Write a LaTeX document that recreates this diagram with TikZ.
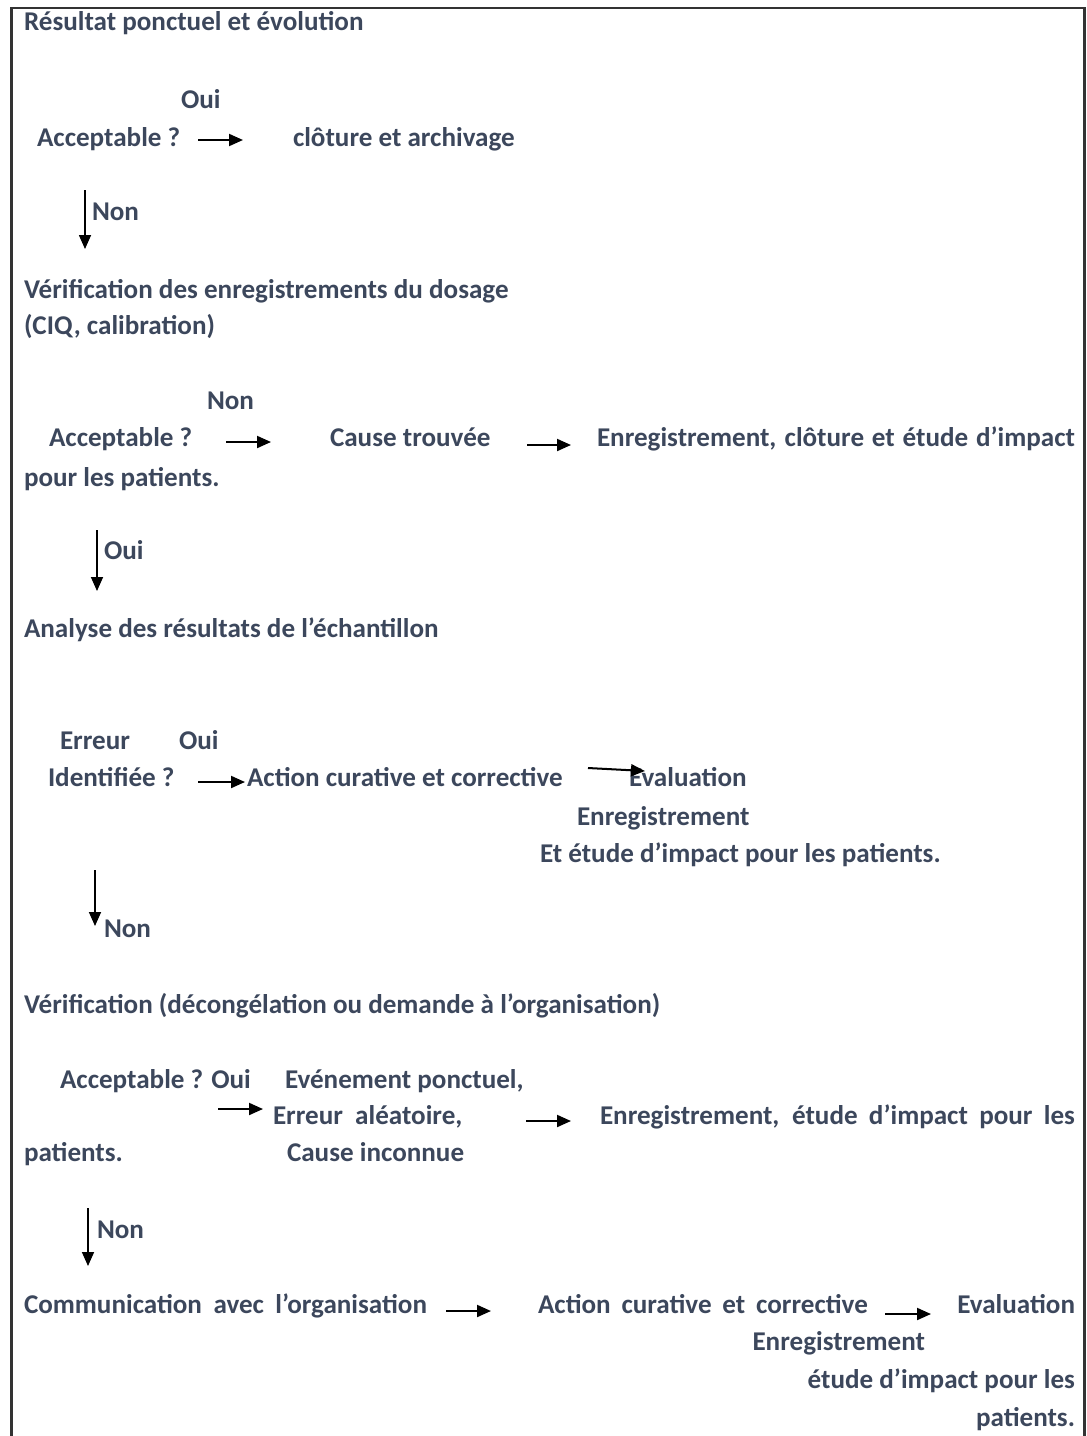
\documentclass[tikz,border=0pt]{standalone}
\usepackage{fontspec}
\setmainfont{Carlito}
\usetikzlibrary{arrows.meta}
\definecolor{txt}{HTML}{3C475C}
\definecolor{frame}{HTML}{333333}
\begin{document}
\begin{tikzpicture}[x=1pt,y=-1pt,
  lbl/.style={anchor=base west,inner sep=0pt,outer sep=0pt,text=txt,font=\bfseries\fontsize{27.1}{32}\selectfont},
  lblr/.style={lbl,anchor=base east},
  harrow/.style={draw=black,line width=2pt,-{Triangle[length=14pt,width=12pt]}},
  varrow/.style={draw=black,line width=1.6pt,-{Triangle[length=14pt,width=12pt]}}]
\useasboundingbox (0,0) rectangle (1087,1436);
\draw[frame,line width=2.5pt] (11.5,1440) -- (11.5,8) -- (1084.5,8) -- (1084.5,1440);

% block 1
\node[lbl] (t1) at (24,30) {Résultat ponctuel et évolution};
\node[lbl] (oui1) at (181,108) {Oui};
\node[lbl] (acc1) at (37,146) {Acceptable ?};
\node[lbl] (clo) at (293,146) {clôture et archivage};
\coordinate (a1s) at (198,140); \coordinate (a1e) at (243,140);
\draw[harrow] (a1s) -- (a1e);
\coordinate (d1s) at (85,190); \coordinate (d1e) at (85,249);
\draw[varrow] (d1s) -- (d1e);
\node[lbl] (non1) at (92,220) {Non};

% block 2
\node[lbl] (ver1) at (24,298) {Vérification des enregistrements du dosage};
\node[lbl] (ciq) at (24,334) {(CIQ, calibration)};
\node[lbl] (non2) at (207,409) {Non};
\node[lbl] (acc2) at (49,446) {Acceptable ?};
\coordinate (a2s) at (226,442); \coordinate (a2e) at (271,442);
\draw[harrow] (a2s) -- (a2e);
\node[lbl] (cause) at (330,446) {Cause trouvée};
\coordinate (a3s) at (527,445); \coordinate (a3e) at (571,445);
\draw[harrow] (a3s) -- (a3e);
\node[lbl] (enr1) at (597,446) {\makebox[478pt][s]{Enregistrement, clôture et étude d’impact}};
\node[lbl] (pour1) at (24,486) {pour les patients.};
\coordinate (d2s) at (97,530); \coordinate (d2e) at (97,591);
\draw[varrow] (d2s) -- (d2e);
\node[lbl] (oui2) at (104,559) {Oui};

% block 3
\node[lbl] (ana) at (24,637) {Analyse des résultats de l’échantillon};
\node[lbl] (err) at (60,749) {Erreur};
\node[lbl] (oui3) at (179,749) {Oui};
\node[lbl] (ident) at (48,786) {Identifiée ?};
\coordinate (a4s) at (198,782); \coordinate (a4e) at (245,782);
\draw[harrow] (a4s) -- (a4e);
\node[lbl] (act1) at (247,786) {Action curative et corrective};
\node[lbl] (eval1) at (629,786) {Evaluation};
\coordinate (a5s) at (588,768); \coordinate (a5e) at (645,771);
\draw[harrow] (a5s) -- (a5e);
\node[lbl] (enr2) at (577,825) {Enregistrement};
\node[lbl] (etude1) at (540,862) {Et étude d’impact pour les patients.};
\coordinate (d3s) at (95,870); \coordinate (d3e) at (95,926);
\draw[varrow] (d3s) -- (d3e);
\node[lbl] (non3) at (104,937) {Non};

% block 4
\node[lbl] (ver2) at (24,1013) {Vérification (décongélation ou demande à l’organisation)};
\node[lbl] (acc3) at (60,1088) {Acceptable ? Oui};
\node[lbl] (evt) at (285,1088) {Evénement ponctuel,};
\coordinate (a6s) at (218,1109); \coordinate (a6e) at (263,1109);
\draw[harrow] (a6s) -- (a6e);
\node[lbl] (alea) at (273,1124) {Erreur\ \ aléatoire,};
\coordinate (a7s) at (526,1121); \coordinate (a7e) at (571,1121);
\draw[harrow] (a7s) -- (a7e);
\node[lbl] (enr3) at (600,1124) {\makebox[475pt][s]{Enregistrement, étude d’impact pour les}};
\node[lbl] (pat1) at (24,1161) {patients.};
\node[lbl] (inc) at (287,1161) {Cause inconnue};
\coordinate (d4s) at (88,1208); \coordinate (d4e) at (88,1266);
\draw[varrow] (d4s) -- (d4e);
\node[lbl] (non4) at (97,1238) {Non};

% block 5
\node[lbl] (comm) at (24,1313) {\makebox[403pt][s]{Communication avec l’organisation}};
\coordinate (a8s) at (446,1311); \coordinate (a8e) at (491,1311);
\draw[harrow] (a8s) -- (a8e);
\node[lbl] (act2) at (538,1313) {\makebox[330pt][s]{Action curative et corrective}};
\coordinate (a9s) at (885,1314); \coordinate (a9e) at (931,1314);
\draw[harrow] (a9s) -- (a9e);
\node[lblr] (eval2) at (1075,1313) {Evaluation};
\node[lblr] (enr4) at (925,1350) {Enregistrement};
\node[lblr] (etude2) at (1075,1388) {étude d’impact pour les};
\node[lblr] (pat2) at (1075,1426) {patients.};
\end{tikzpicture}
\end{document}
